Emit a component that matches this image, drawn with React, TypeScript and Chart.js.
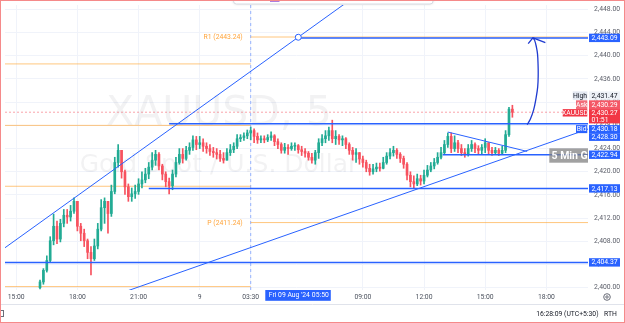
import React, { useEffect, useRef } from 'react';
import { Chart, registerables } from 'chart.js';

Chart.register(...registerables);

// ---------- data ----------
const FIRST_OPEN = 2400.0;
const FIRST_BAR = 14; // 5-min bar index of first candle (15:00 = 0)
const BAR_STEP = 2; // each candle = 10 minutes

const closes = [
  2401.0, 2403.0, 2404.7, 2408.1, 2410.6, 2408.4, 2411.1, 2412.5, 2412.2, 2413.2,
  2414.9, 2410.6, 2409.4, 2408.1, 2406.1, 2405.0, 2407.2, 2410.1, 2413.8, 2414.9,
  2412.8, 2416.6, 2421.6, 2423.7, 2420.0, 2417.4, 2415.7, 2416.2, 2416.6, 2417.9,
  2418.6, 2419.6, 2420.8, 2422.0, 2423.0, 2421.0, 2419.6, 2418.3, 2417.6, 2419.6,
  2421.6, 2423.0, 2422.3, 2423.7, 2424.2, 2425.5, 2424.7, 2425.0, 2424.4, 2424.0,
  2423.5, 2423.3, 2423.0, 2422.3, 2422.0, 2423.3, 2423.8, 2424.4, 2425.7, 2425.9,
  2426.2, 2426.7, 2427.1, 2426.1, 2425.5, 2425.7, 2425.5, 2425.9, 2426.2, 2425.2,
  2424.7, 2423.7, 2424.2, 2424.0, 2424.4, 2424.5, 2423.8, 2423.5, 2423.2, 2422.5,
  2422.0, 2423.3, 2425.0, 2425.7, 2426.2, 2427.1, 2425.7, 2426.1, 2425.5, 2425.7,
  2424.7, 2423.7, 2423.0, 2423.3, 2422.2, 2421.6, 2420.6, 2420.0, 2420.5, 2420.8,
  2420.6, 2421.6, 2422.7, 2423.3, 2423.7, 2423.0, 2422.3, 2421.3, 2419.4, 2418.3,
  2417.9, 2418.8, 2418.4, 2419.4, 2420.3, 2421.0, 2421.6, 2422.5, 2423.3, 2424.7,
  2426.1, 2424.0, 2425.0, 2424.0, 2423.3, 2423.0, 2424.0, 2424.7, 2424.0, 2423.7,
  2424.2, 2425.0, 2423.7, 2423.3, 2423.7, 2423.2, 2423.7, 2426.4, 2430.8, 2430.27,
];

const highs = [
  2401.3, 2403.3, 2405.5, 2408.8, 2412.7, 2411.5, 2411.8, 2413.5, 2413.5, 2414.2,
  2415.5, 2414.9, 2411.1, 2410.1, 2408.4, 2407.1, 2408.4, 2411.1, 2415.2, 2415.5,
  2414.5, 2417.7, 2422.5, 2424.7, 2423.7, 2420.3, 2417.9, 2417.2, 2417.7, 2418.8,
  2420.0, 2420.6, 2421.6, 2423.3, 2423.7, 2423.3, 2421.3, 2420.0, 2418.9, 2420.3,
  2422.5, 2424.0, 2424.0, 2424.4, 2425.0, 2426.2, 2426.1, 2426.1, 2425.7, 2425.0,
  2424.7, 2424.2, 2424.0, 2423.7, 2423.3, 2424.0, 2424.7, 2425.0, 2426.4, 2426.4,
  2426.7, 2427.2, 2427.7, 2427.4, 2426.7, 2426.2, 2426.2, 2426.4, 2426.9, 2426.4,
  2425.7, 2425.0, 2424.9, 2424.7, 2425.0, 2425.0, 2424.7, 2424.4, 2424.0, 2423.5,
  2423.2, 2423.7, 2425.7, 2426.4, 2427.1, 2427.7, 2428.9, 2427.1, 2426.4, 2426.2,
  2425.9, 2425.0, 2424.2, 2424.0, 2423.3, 2422.7, 2422.0, 2421.3, 2421.3, 2421.5,
  2421.5, 2422.5, 2423.3, 2424.0, 2424.4, 2424.0, 2423.3, 2422.7, 2421.6, 2420.0,
  2419.3, 2419.6, 2419.4, 2420.3, 2421.1, 2421.6, 2422.3, 2423.3, 2424.2, 2425.4,
  2426.7, 2426.7, 2426.2, 2425.4, 2424.7, 2424.0, 2424.7, 2425.4, 2425.0, 2424.5,
  2424.7, 2425.7, 2425.0, 2424.2, 2424.2, 2424.0, 2424.4, 2427.1, 2431.1, 2431.47,
];

const lows = [
  2399.8, 2400.6, 2402.7, 2404.4, 2407.4, 2407.6, 2407.9, 2410.5, 2411.1, 2411.5,
  2412.8, 2409.8, 2408.1, 2407.1, 2405.0, 2402.2, 2404.7, 2406.7, 2409.8, 2411.1,
  2409.4, 2412.3, 2416.2, 2420.8, 2418.9, 2416.1, 2414.9, 2414.9, 2415.4, 2416.1,
  2417.2, 2418.1, 2418.8, 2420.3, 2421.1, 2420.3, 2418.6, 2417.4, 2416.2, 2416.9,
  2419.1, 2421.3, 2421.5, 2422.0, 2423.0, 2423.7, 2423.8, 2424.0, 2423.5, 2423.2,
  2422.8, 2422.5, 2422.2, 2421.8, 2421.5, 2422.0, 2422.8, 2423.3, 2424.0, 2425.2,
  2425.4, 2425.7, 2425.5, 2425.0, 2424.9, 2425.0, 2425.0, 2425.2, 2425.4, 2424.5,
  2424.0, 2423.2, 2423.2, 2423.0, 2423.7, 2423.7, 2423.2, 2422.8, 2422.5, 2422.0,
  2421.5, 2421.3, 2422.3, 2424.5, 2425.0, 2425.4, 2425.0, 2424.7, 2424.7, 2424.5,
  2424.0, 2423.0, 2422.0, 2421.6, 2421.3, 2420.8, 2420.0, 2419.4, 2419.6, 2420.0,
  2420.1, 2420.5, 2421.3, 2422.2, 2422.7, 2422.3, 2421.6, 2420.6, 2418.6, 2417.4,
  2417.1, 2417.6, 2417.7, 2417.9, 2419.1, 2420.0, 2420.5, 2421.3, 2422.2, 2423.0,
  2424.2, 2423.3, 2423.5, 2423.3, 2422.8, 2422.5, 2422.7, 2423.5, 2423.3, 2423.0,
  2423.0, 2423.3, 2423.0, 2422.8, 2423.0, 2422.8, 2423.0, 2423.3, 2426.1, 2429.4,
];

const timeTickBars = [0, 36, 72, 108, 138, 204, 240, 276, 312];
const timeTickLabels = ['15:00', '18:00', '21:00', '9', '03:30', '09:00', '12:00', '15:00', '18:00'];
const priceTicks = [2400, 2404, 2408, 2412, 2416, 2420, 2424, 2428, 2432, 2436, 2440, 2444, 2448];

const X_MIN = -6.6;
const X_MAX = 336.5;
const Y_MIN = 2399.61;
const Y_MAX = 2448.76;
const SESSION_BAR = 138;

const prevPivotPrices = [2438.6, 2428.0, 2417.5, 2400.2];
const pivotNames = ['R1', 'P'];
const pivotPrices = [2443.24, 2411.24];

const levelPrices = [2443.09, 2428.3, 2422.94, 2417.13, 2404.37];
const levelStartBars = [166, 90, 251, 78, -6.6];

const upperTrend = [[-6.6, 2406.9], [203, 2451.0]];
const lowerTrend = [[60, 2398.9], [336.5, 2427.37]];
const triangleTop = [[254.0, 2426.85], [300.7, 2423.51]];
const arrowPath = [
  [300.7, 2428.13], [302.6, 2429.1], [304.5, 2430.68], [305.8, 2432.49], [306.9, 2434.64],
  [307.2, 2436.9], [307.1, 2438.59], [306.8, 2440.29], [306.2, 2441.42], [305.1, 2442.66], [304.1, 2443.05],
];
const arrowHead = [[301.3, 2442.1], [304.1, 2443.1], [311.4, 2442.27]];
const anchorPoint = [166, 2443.2];

const lastPrice = 2430.27;
const askPrice = 2430.29;
const bidPrice = 2430.18;
const highPrice = 2431.47;
const countdown = '01:51';

// ---------- styles ----------
const FONT = 'Roboto, "DejaVu Sans", sans-serif';
const WM_FONT = '"DejaVu Sans", sans-serif';
const GREEN = '#22ab94';
const RED = '#f7525f';
const BLUE = '#2962ff';
const ORANGE = 'rgba(255,160,40,0.6)';
const GRID = '#f0f3fa';

const fmt = (v: number) =>
  v.toLocaleString('en-US', { minimumFractionDigits: 2, maximumFractionDigits: 2 });

function lineDs(pts: number[][], color: string, width: number, order: number, extra: any = {}) {
  return {
    type: 'line',
    data: pts.map(([x, y]) => ({ x, y })),
    borderColor: color,
    borderWidth: width,
    pointRadius: 0,
    pointHoverRadius: 0,
    fill: false,
    tension: 0,
    order,
    ...extra,
  };
}

function tag(ctx: CanvasRenderingContext2D, x: number, y: number, w: number, h: number, bg: string, text: string, fg: string, size = 6.8) {
  ctx.fillStyle = bg;
  ctx.fillRect(x, y, w, h);
  ctx.fillStyle = fg;
  ctx.font = `${size}px ${FONT}`;
  ctx.textAlign = 'center';
  ctx.textBaseline = 'middle';
  ctx.fillText(text, x + w / 2, y + h / 2 + 0.4);
}

const overlay = {
  id: 'overlay',
  beforeDatasetsDraw(chart: any) {
    const { ctx } = chart;
    ctx.save();
    ctx.fillStyle = 'rgba(19,23,34,0.055)';
    ctx.textAlign = 'center';
    ctx.textBaseline = 'alphabetic';
    ctx.font = `41px ${WM_FONT}`;
    ctx.fillText('XAUUSD, 5', 219, 125);
    ctx.font = `25px ${WM_FONT}`;
    ctx.fillText('Gold Spot / U.S. Dollar', 219, 171.5);
    ctx.restore();
  },
  afterDatasetsDraw(chart: any) {
    const { ctx, chartArea } = chart;
    const xs = chart.scales.x;
    const ys = chart.scales.y;
    ctx.save();
    ctx.font = `6.8px ${FONT}`;
    ctx.fillStyle = '#ffa43a';
    ctx.textAlign = 'right';
    ctx.textBaseline = 'middle';
    const lx = xs.getPixelForValue(SESSION_BAR) - 8;
    pivotPrices.forEach((p, i) => {
      ctx.fillText(`${pivotNames[i]} (${p.toFixed(2)})`, lx, ys.getPixelForValue(p) + 0.5);
    });
    ctx.beginPath();
    ctx.rect(chartArea.left, chartArea.top, chartArea.right - chartArea.left, chartArea.bottom - chartArea.top);
    ctx.clip();
    ctx.fillStyle = 'rgba(130,130,130,0.75)';
    ctx.fillRect(549.3, 148.3, 60, 14.4);
    ctx.fillStyle = '#ffffff';
    ctx.font = `bold 10.5px ${FONT}`;
    ctx.textAlign = 'left';
    ctx.fillText('5 Min Gold', 551.5, 156);
    ctx.restore();
  },
  afterDraw(chart: any) {
    const { ctx } = chart;
    const xs = chart.scales.x;
    const ys = chart.scales.y;
    ctx.save();
    ctx.fillStyle = '#ffffff';
    ctx.fillRect(588, 290.5, 37, 14);

    [0, 2, 3, 4].forEach((i) => {
      const py = ys.getPixelForValue(levelPrices[i]);
      tag(ctx, 589, py - 4.2, 31, 8.4, BLUE, fmt(levelPrices[i]), '#fff');
    });

    const base = ys.getPixelForValue(lastPrice);
    tag(ctx, 572.7, base - 20.8, 14.6, 8.4, '#e3e8f1', 'High', '#131722');
    tag(ctx, 589, base - 20.8, 31, 8.4, '#eef1f7', fmt(highPrice), '#131722');
    tag(ctx, 576, base - 11.9, 11.3, 8.8, '#f26d7a', 'Ask', '#fff');
    tag(ctx, 589, base - 11.9, 31, 8.8, '#f45866', fmt(askPrice), '#fff');
    tag(ctx, 562.7, base - 3.1, 24.6, 7.4, '#f23645', 'XAUUSD', '#fff');
    ctx.fillStyle = '#f23645';
    ctx.fillRect(589, base - 3.1, 31, 14.3);
    ctx.fillStyle = '#fff';
    ctx.font = `6.8px ${FONT}`;
    ctx.textAlign = 'center';
    ctx.textBaseline = 'middle';
    ctx.fillText(fmt(lastPrice), 604.5, base + 0.8);
    ctx.fillText(countdown, 600, base + 7.6);
    tag(ctx, 576, base + 12.9, 11.3, 8, BLUE, 'Bid', '#fff');
    tag(ctx, 589, base + 12.9, 31, 8, BLUE, fmt(bidPrice), '#fff');
    tag(ctx, 589, base + 20.9, 31, 7.8, BLUE, fmt(levelPrices[1]), '#fff');

    const cx = xs.getPixelForValue(anchorPoint[0]);
    ctx.fillStyle = BLUE;
    ctx.fillRect(cx - 33, 290, 65.5, 10.8);
    ctx.fillStyle = '#fff';
    ctx.font = `6.8px ${FONT}`;
    ctx.textBaseline = 'middle';
    ctx.textAlign = 'left';
    ctx.fillText("Fri 09 Aug '24", cx - 29.5, 295.6);
    ctx.textAlign = 'right';
    ctx.fillText('05:50', cx + 30.5, 295.6);

    ctx.strokeStyle = '#6a6d78';
    ctx.lineWidth = 1;
    ctx.beginPath();
    ctx.arc(607, 297, 3.3, 0, Math.PI * 2);
    ctx.stroke();
    ctx.beginPath();
    ctx.arc(607, 297, 1.2, 0, Math.PI * 2);
    ctx.stroke();

    ctx.shadowColor = 'rgba(0,0,0,0.18)';
    ctx.shadowBlur = 3;
    ctx.fillStyle = '#ffffff';
    ctx.beginPath();
    ctx.roundRect(233.5, -6, 199.5, 10, 3);
    ctx.fill();
    ctx.shadowBlur = 0;
    ctx.shadowColor = 'transparent';
    ctx.strokeStyle = '#d8dbe3';
    ctx.stroke();
    ctx.fillStyle = '#9a5fd6';
    ctx.fillRect(270, 0, 9.5, 1.8);

    ctx.strokeStyle = '#e0e3eb';
    ctx.beginPath();
    ctx.moveTo(0, 304.5);
    ctx.lineTo(625, 304.5);
    ctx.stroke();
    ctx.fillStyle = '#131722';
    ctx.font = `6.8px ${FONT}`;
    ctx.textBaseline = 'middle';
    ctx.textAlign = 'right';
    ctx.fillText('16:28:09 (UTC+5:30)', 598.5, 314.3);
    ctx.textAlign = 'left';
    ctx.fillText('RTH', 604, 314.3);
    ctx.strokeStyle = '#6a6d78';
    ctx.strokeRect(0.5, 310.5, 3, 6);

    ctx.strokeStyle = '#f58a8a';
    ctx.lineWidth = 1;
    ctx.strokeRect(0.5, 0.5, 624, 322);
    ctx.restore();
  },
};

export default function App() {
  const ref = useRef<HTMLCanvasElement>(null);

  useEffect(() => {
    document.body.style.margin = '0';
    const canvas = ref.current;
    if (!canvas) return;

    const opens = closes.map((c, k) => (k === 0 ? FIRST_OPEN : closes[k - 1]));
    const bars = closes.map((_, k) => FIRST_BAR + BAR_STEP * k);
    const colors = closes.map((c, k) => (c >= opens[k] ? GREEN : RED));
    const bodyData = closes.map((c, k) => ({ x: bars[k], y: [opens[k], c] }));
    const wickData = closes.map((c, k) => ({
      x: bars[k],
      y: [Math.min(lows[k], opens[k], c), Math.max(highs[k], opens[k], c)],
    }));

    const datasets: any[] = [
      { type: 'bar', data: wickData, backgroundColor: colors, barThickness: 1, grouped: false, borderWidth: 0, order: 11 },
      { type: 'bar', data: bodyData, backgroundColor: colors, barThickness: 2, grouped: false, borderWidth: 0, minBarLength: 1, order: 10 },
      lineDs([[X_MIN, lastPrice], [X_MAX, lastPrice]], 'rgba(242,54,69,0.45)', 1, 20, { borderDash: [2, 2] }),
      lineDs([[SESSION_BAR, Y_MIN], [SESSION_BAR, Y_MAX]], 'rgba(41,98,255,0.45)', 1, 20, { borderDash: [3, 3] }),
    ];
    prevPivotPrices.forEach((p) => datasets.push(lineDs([[X_MIN, p], [SESSION_BAR, p]], ORANGE, 1, 15)));
    pivotPrices.forEach((p) => datasets.push(lineDs([[SESSION_BAR, p], [X_MAX, p]], ORANGE, 1, 15)));
    levelPrices.forEach((p, i) => {
      datasets.push(lineDs([[levelStartBars[i], p], [X_MAX, p]], BLUE, 1.5, 2));
    });
    datasets.push(lineDs(upperTrend, BLUE, 1, 2));
    datasets.push(lineDs(lowerTrend, BLUE, 1, 2));
    datasets.push(lineDs(triangleTop, BLUE, 1, 2));
    datasets.push(lineDs(arrowPath, '#1f3bd0', 1.3, 1, { tension: 0.4 }));
    datasets.push(lineDs(arrowHead, '#1f3bd0', 1.3, 1));
    datasets.push({
      type: 'line',
      data: [{ x: anchorPoint[0], y: anchorPoint[1] }],
      showLine: false,
      pointRadius: 3,
      pointBackgroundColor: '#ffffff',
      pointBorderColor: BLUE,
      pointBorderWidth: 1,
      order: 0,
    });

    const chart = new Chart(canvas, {
      type: 'bar',
      data: { datasets },
      options: {
        animation: false,
        responsive: false,
        devicePixelRatio: 1,
        layout: { padding: { left: 0, right: 0, top: 0, bottom: 18 } },
        plugins: { legend: { display: false }, tooltip: { enabled: false } },
        scales: {
          x: {
            type: 'linear',
            min: X_MIN,
            max: X_MAX,
            offset: false,
            grid: { color: GRID, drawTicks: false, offset: false },
            border: { display: false },
            ticks: {
              autoSkip: false,
              maxRotation: 0,
              padding: 3,
              color: '#4c525e',
              font: { family: FONT, size: 6.8 },
              callback: (_v: any, i: number) => timeTickLabels[i],
            },
            afterBuildTicks: (s: any) => {
              s.ticks = timeTickBars.map((v) => ({ value: v }));
            },
            afterFit: (s: any) => {
              s.height = 15;
              s.paddingLeft = 0;
              s.paddingRight = 0;
            },
          },
          y: {
            type: 'linear',
            position: 'right',
            min: Y_MIN,
            max: Y_MAX,
            grid: { color: GRID, drawTicks: false },
            border: { display: false },
            ticks: {
              padding: 6,
              color: '#5d606b',
              font: { family: FONT, size: 6.8 },
              callback: (v: any) => fmt(Number(v)),
            },
            afterBuildTicks: (s: any) => {
              s.ticks = priceTicks.map((v) => ({ value: v }));
            },
            afterFit: (s: any) => {
              s.width = 37;
              s.paddingTop = 0;
              s.paddingBottom = 0;
            },
          },
        },
      } as any,
      plugins: [overlay],
    } as any);

    return () => chart.destroy();
  }, []);

  return (
    <div style={{ width: 625, height: 323, position: 'relative' }}>
      <canvas ref={ref} width={625} height={323} style={{ display: 'block' }} />
    </div>
  );
}
